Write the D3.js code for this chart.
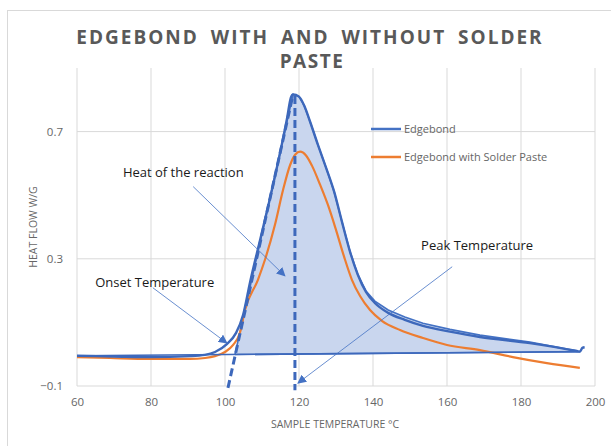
<!DOCTYPE html>
<html>
<head>
<meta charset="utf-8">
<script src="https://cdn.jsdelivr.net/npm/d3@7"></script>
<style>
  body { margin: 0; background: #fff; }
  text { font-family: "Open Sans", sans-serif; }
</style>
</head>
<body>
<div id="chart"></div>
<script>
// Edgebond (blue) curve, temperature in °C and heat flow in W/g
const edgebondTemp = [60, 70, 79.7, 90.5, 94.6, 97.3, 100.5, 103.0, 104.9, 106.8, 109.5, 112.2, 114.9, 116.8, 117.8, 118.4,
  120.0, 121.4, 123.0, 125.1, 127.3, 129.5, 131.6, 133.8, 135.9, 138.1, 140.5, 144.1, 148.6, 153.5, 160.8, 168.9, 182.4, 195.1, 195.9, 196.6, 197.2];
const edgebondFlow = [-0.005, -0.007, -0.009, -0.006, -0.002, 0.007, 0.032, 0.067, 0.124, 0.228, 0.360, 0.492, 0.634, 0.744, 0.807, 0.817,
  0.810, 0.782, 0.731, 0.659, 0.587, 0.511, 0.417, 0.322, 0.250, 0.196, 0.161, 0.130, 0.108, 0.089, 0.071, 0.054, 0.035, 0.010, 0.008, 0.020, 0.022];

// Edgebond with solder paste (orange) curve
const pasteTemp = [60, 68.9, 79.7, 90.5, 94.6, 97.3, 100.0, 102.2, 104.1, 105.4, 108.9, 110.8, 113.5, 115.7, 117.6, 119.0, 120.3,
  121.9, 123.5, 125.7, 127.8, 130.0, 132.2, 134.3, 136.5, 139.2, 142.4, 147.3, 153.5, 160.0, 168.9, 177.8, 187.0, 195.9];
const pasteFlow = [-0.009, -0.012, -0.015, -0.015, -0.012, -0.006, 0.007, 0.029, 0.070, 0.139, 0.234, 0.297, 0.407, 0.517, 0.595, 0.628, 0.637,
  0.625, 0.593, 0.533, 0.470, 0.391, 0.306, 0.234, 0.183, 0.139, 0.105, 0.076, 0.051, 0.029, 0.013, -0.009, -0.028, -0.043];

// construction lines drawn on top
const baselineTemp = [60, 196];
const baselineFlow = [-0.005, 0.008];
const tangentTemp = [100.8, 118.4];
const tangentFlow = [-0.106, 0.817];
const peakTemp = 118.9;
const peakFlow = [0.812, -0.113];

// shaded heat-of-reaction area (tangent foot, peak, descending edge)
const areaTemp = [102.7, 118.4, 120.0, 121.4, 123.0, 125.1, 127.3, 129.5, 131.6, 133.8, 135.9, 138.1, 140.5, 144.1, 148.6, 153.5, 160.8, 168.9, 182.4, 195.1];
const areaFlow = [-0.001, 0.817, 0.810, 0.782, 0.731, 0.659, 0.587, 0.511, 0.417, 0.322, 0.250, 0.199, 0.167, 0.139, 0.117, 0.097, 0.078, 0.060, 0.038, 0.010];

const xTicks = [60, 80, 100, 120, 140, 160, 180, 200];
const yTicks = [-0.1, 0.3, 0.7];

const notes = [
  {label: 'Heat of the reaction', tx: 72.4, ty: 0.557, from: [91.4, 0.527], to: [116.2, 0.246]},
  {label: 'Onset Temperature', tx: 64.9, ty: 0.212, from: [80.5, 0.209], to: [100.5, 0.035]},
  {label: 'Peak Temperature', tx: 153.0, ty: 0.328, from: [161.4, 0.275], to: [119.7, -0.091]}
];

const seriesNames = ['Edgebond', 'Edgebond with Solder Paste'];
const blue = '#4472C4', orange = '#ED7D31', darkBlue = '#3d68bb';

let width = 611, height = 446;
let margin = {top: 68, right: 16, bottom: 60, left: 77};

let svg = d3.select('#chart').append('svg')
    .attr('width', width)
    .attr('height', height);

// chart frame
svg.append('rect')
    .attr('x', 7.5).attr('y', 10.5)
    .attr('width', 640).attr('height', 460)
    .attr('fill', 'none')
    .attr('stroke', '#d9d9d9');

let xScale = d3.scaleLinear().domain([60, 200]).range([margin.left, width - margin.right]);
let yScale = d3.scaleLinear().domain([-0.1, 0.9]).range([height - margin.bottom, margin.top]);

// gridlines
svg.append('g')
    .selectAll('line')
    .data(xTicks).enter()
    .append('line')
    .attr('x1', d => xScale(d)).attr('x2', d => xScale(d))
    .attr('y1', yScale(0.9)).attr('y2', yScale(-0.1))
    .attr('stroke', '#d9d9d9');

svg.append('g')
    .selectAll('line')
    .data(yTicks).enter()
    .append('line')
    .attr('x1', xScale(60)).attr('x2', xScale(200))
    .attr('y1', d => yScale(d)).attr('y2', d => yScale(d))
    .attr('stroke', '#d9d9d9');

// axes, labels only
let xAxis = svg.append('g')
    .attr('transform', 'translate(0,' + yScale(-0.1) + ')')
    .call(d3.axisBottom(xScale).tickValues(xTicks).tickSize(0).tickPadding(12));
let yAxis = svg.append('g')
    .attr('transform', 'translate(' + xScale(60) + ',0)')
    .call(d3.axisLeft(yScale).tickValues(yTicks).tickSize(0).tickPadding(14).tickFormat(d3.format('.1f')));

[xAxis, yAxis].forEach(function (a) {
    a.select('.domain').remove();
    a.selectAll('text')
        .attr('fill', '#666')
        .style('font-size', '11.5px')
        .style('font-family', '"Open Sans", sans-serif');
});

svg.append('text')
    .attr('x', 335).attr('y', 428)
    .attr('text-anchor', 'middle')
    .attr('fill', '#666')
    .style('font-size', '10.5px')
    .text('SAMPLE TEMPERATURE °C');

svg.append('text')
    .attr('transform', 'translate(37,' + (yScale(-0.1) + yScale(0.9)) / 2 + ') rotate(-90)')
    .attr('text-anchor', 'middle')
    .attr('fill', '#666')
    .style('font-size', '10.5px')
    .text('HEAT FLOW W/G');

// title
svg.append('text')
    .attr('x', 310).attr('y', 44)
    .attr('text-anchor', 'middle')
    .attr('fill', '#595959')
    .style('font-size', '19px').style('font-weight', 'bold')
    .style('letter-spacing', '2px').style('word-spacing', '5px')
    .text('EDGEBOND WITH AND WITHOUT SOLDER');
svg.append('text')
    .attr('x', 312).attr('y', 68)
    .attr('text-anchor', 'middle')
    .attr('fill', '#595959')
    .style('font-size', '19px').style('font-weight', 'bold')
    .style('letter-spacing', '1.5px')
    .text('PASTE');

let line = d3.line().x(d => xScale(d[0])).y(d => yScale(d[1]));
let smooth = d3.line().curve(d3.curveMonotoneX).x(d => xScale(d[0])).y(d => yScale(d[1]));
let zip = (a, b) => a.map((v, i) => [v, b[i]]);

// shaded area
let baseAt = t => baselineFlow[0] + (t - baselineTemp[0]) * (baselineFlow[1] - baselineFlow[0]) / (baselineTemp[1] - baselineTemp[0]);
let last = areaTemp.length - 1;
let areaPoly = zip(areaTemp, areaFlow).concat([[areaTemp[last], baseAt(areaTemp[last])], [areaTemp[0], baseAt(areaTemp[0])]]);
svg.append('path')
    .attr('d', line(areaPoly) + 'Z')
    .attr('fill', '#c9d6ee')
    .attr('stroke', blue)
    .attr('stroke-width', 1.6);

// series
svg.append('path')
    .attr('d', smooth(zip(pasteTemp, pasteFlow)))
    .attr('fill', 'none')
    .attr('stroke', orange)
    .attr('stroke-width', 2.2);

svg.append('path')
    .attr('d', smooth(zip(edgebondTemp, edgebondFlow)))
    .attr('fill', 'none')
    .attr('stroke', darkBlue)
    .attr('stroke-width', 2.4);

// baseline and construction lines
svg.append('path')
    .attr('d', line(zip(baselineTemp, baselineFlow)))
    .attr('fill', 'none')
    .attr('stroke', darkBlue)
    .attr('stroke-width', 1.6);

svg.append('path')
    .attr('d', line(zip(tangentTemp, tangentFlow)))
    .attr('fill', 'none')
    .attr('stroke', darkBlue)
    .attr('stroke-width', 3)
    .attr('stroke-dasharray', '8,4');

svg.append('path')
    .attr('d', line([[peakTemp, peakFlow[0]], [peakTemp, peakFlow[1]]]))
    .attr('fill', 'none')
    .attr('stroke', darkBlue)
    .attr('stroke-width', 3)
    .attr('stroke-dasharray', '8,4');

// annotations
svg.append('defs').append('marker')
    .attr('id', 'arrow')
    .attr('viewBox', '0 0 10 10')
    .attr('refX', 9).attr('refY', 5)
    .attr('markerWidth', 9).attr('markerHeight', 9)
    .attr('markerUnits', 'userSpaceOnUse')
    .attr('orient', 'auto')
    .append('path')
    .attr('d', 'M0,0 L10,5 L0,10 Z')
    .attr('fill', blue);

notes.forEach(function (n) {
    svg.append('line')
        .attr('x1', xScale(n.from[0])).attr('y1', yScale(n.from[1]))
        .attr('x2', xScale(n.to[0])).attr('y2', yScale(n.to[1]))
        .attr('stroke', blue)
        .attr('stroke-width', 0.8)
        .attr('marker-end', 'url(#arrow)');
    svg.append('text')
        .attr('x', xScale(n.tx)).attr('y', yScale(n.ty))
        .attr('fill', '#1a1a1a')
        .style('font-size', '13px')
        .text(n.label);
});

// legend
let legend = svg.append('g').attr('transform', 'translate(371,129)');
seriesNames.forEach(function (name, i) {
    let row = legend.append('g').attr('transform', 'translate(0,' + i * 28 + ')');
    row.append('line')
        .attr('x1', 0).attr('x2', 30)
        .attr('stroke', i == 0 ? blue : orange)
        .attr('stroke-width', 2.5);
    row.append('text')
        .attr('x', 33).attr('y', 4)
        .attr('fill', '#666')
        .style('font-size', '11px')
        .text(name);
});
</script>
</body>
</html>
